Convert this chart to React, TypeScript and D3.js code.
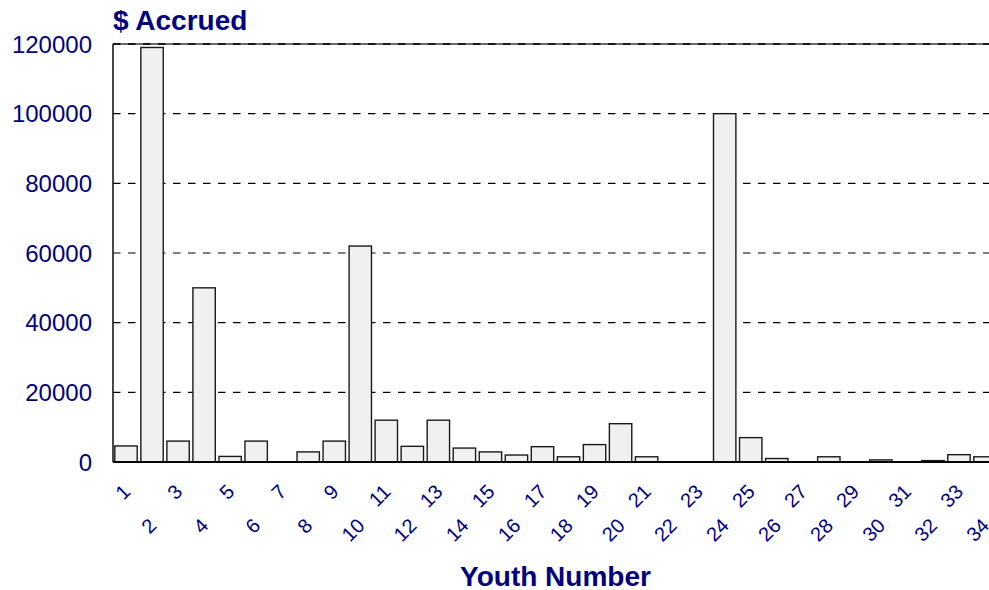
import React from "react";
import * as d3 from "d3";

const categories: string[] = Array.from({ length: 34 }, (_, i) => String(i + 1));
const values: number[] = [
  4600, 119000, 6000, 50000, 1600, 6000, 0, 2900, 6000, 62000,
  12000, 4500, 12000, 4000, 2900, 2000, 4400, 1500, 5000, 11000,
  1500, 0, 0, 100000, 7000, 1000, 0, 1500, 0, 600,
  0, 400, 2100, 1500,
];
const yTicks: number[] = [0, 20000, 40000, 60000, 80000, 100000, 120000];
const title = "$ Accrued";
const xTitle = "Youth Number";

const W = 989;
const H = 590;
const left = 113;
const right = 998;
const top = 44;
const bottom = 462;
const navy = "#000080";
const font = "Liberation Sans, Arial, Helvetica, sans-serif";

export default function App() {
  const x = d3.scaleBand<string>().domain(categories).range([left, right]).paddingInner(0.14).paddingOuter(0.07);
  const y = d3.scaleLinear().domain([0, 120000]).range([bottom, top]);
  return (
    <div style={{ position: "fixed", left: 0, top: 0, width: W, height: H, background: "#fff" }}>
      <svg width={W} height={H} style={{ display: "block" }} fontFamily={font}>
        {yTicks.filter((t) => t > 0 && t < 120000).map((t) => (
          <line key={t} x1={left} x2={right} y1={y(t)} y2={y(t)} stroke="#000" strokeWidth={1.2} strokeDasharray="7.5,7.5" />
        ))}
        <line x1={left} x2={right} y1={y(120000)} y2={y(120000)} stroke="#3a3a3a" strokeWidth={1.5} />
        <line x1={left} x2={right} y1={y(120000)} y2={y(120000)} stroke="#000" strokeWidth={1.5} strokeDasharray="7.5,7.5" />
        {values.map((v, i) => (
          <rect
            key={i}
            x={x(categories[i])}
            y={y(v)}
            width={x.bandwidth()}
            height={bottom - y(v)}
            fill="#f0f0f0"
            stroke="#1a1a1a"
            strokeWidth={1.4}
          />
        ))}
        <line x1={left} x2={left} y1={top} y2={bottom} stroke="#1a1a1a" strokeWidth={1.6} />
        <line x1={left} x2={right} y1={bottom} y2={bottom} stroke="#000" strokeWidth={2.2} />
        {yTicks.map((t) => (
          <text key={t} x={92} y={y(t)} dy="0.36em" textAnchor="end" fontSize={24} fill={navy}>
            {t}
          </text>
        ))}
        {categories.map((c, i) => {
          const cx = (x(c) as number) + x.bandwidth() / 2 + 5.5;
          const cy = i % 2 === 0 ? 493 : 527;
          return (
            <text key={c} transform={`translate(${cx},${cy}) rotate(-45)`} textAnchor="end" fontSize={20} fill={navy}>
              {c}
            </text>
          );
        })}
        <text x={113} y={30} fontSize={28} fontWeight="bold" fill={navy}>
          {title}
        </text>
        <text x={(left + right) / 2} y={586} textAnchor="middle" fontSize={28} fontWeight="bold" fill={navy}>
          {xTitle}
        </text>
      </svg>
    </div>
  );
}
